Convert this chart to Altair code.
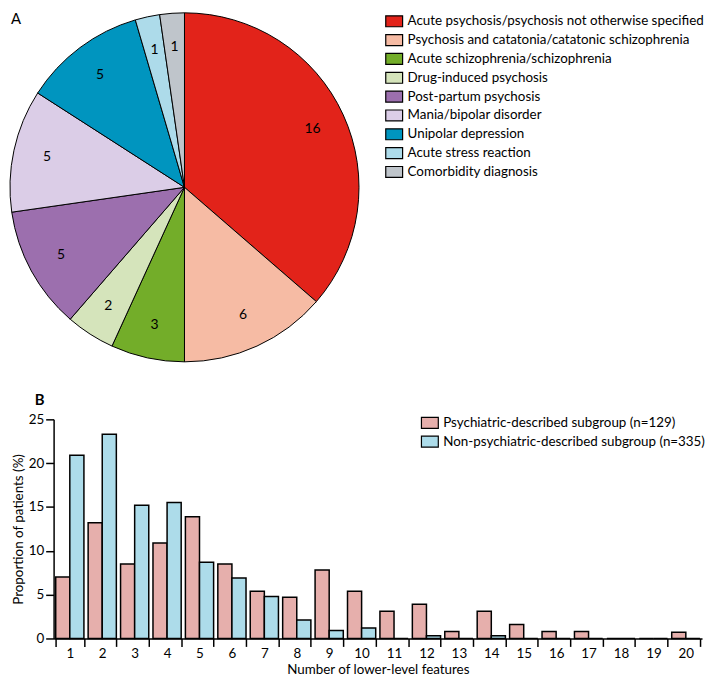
import altair as alt
import pandas as pd

FONT = "Lato"
FS = 13.5

# ---- Panel A data ----
diagnoses = [
    "Acute psychosis/psychosis not otherwise specified",
    "Psychosis and catatonia/catatonic schizophrenia",
    "Acute schizophrenia/schizophrenia",
    "Drug-induced psychosis",
    "Post-partum psychosis",
    "Mania/bipolar disorder",
    "Unipolar depression",
    "Acute stress reaction",
    "Comorbidity diagnosis",
]
counts = [16, 6, 3, 2, 5, 5, 5, 1, 1]
pie_colors = ["#E2231A", "#F6BBA4", "#73AD29", "#D5E4BB", "#9C6FAE",
              "#DBCDE7", "#0095BF", "#ADDBEA", "#BFC5CB"]

# ---- Panel B data ----
features = [str(i) for i in range(1, 21)]
groups = ["Psychiatric-described subgroup (n=129)",
          "Non-psychiatric-described subgroup (n=335)"]
psychiatric = [7.0, 13.2, 8.5, 10.9, 13.9, 8.5, 5.4, 4.7, 7.8, 5.4,
               3.1, 3.9, 0.8, 3.1, 1.6, 0.8, 0.8, 0.0, 0.0, 0.7]
non_psychiatric = [20.9, 23.3, 15.2, 15.5, 8.7, 6.9, 4.8, 2.1, 0.9, 1.2,
                   0.0, 0.3, 0.0, 0.3, 0.0, 0.0, 0.0, 0.0, 0.0, 0.0]
bar_colors = ["#E6AFAC", "#ADDCEA"]
y_ticks = [0, 5, 10, 15, 20, 25]

pie_df = pd.DataFrame({"diagnosis": diagnoses, "count": counts,
                       "order": list(range(len(diagnoses)))})

base = alt.Chart(pie_df).encode(
    theta=alt.Theta("count:Q", stack=True),
    order=alt.Order("order:Q"),
)
arcs = base.mark_arc(outerRadius=176, stroke="black", strokeWidth=1,
                     x=132, y=177).encode(
    color=alt.Color(
        "diagnosis:N",
        scale=alt.Scale(domain=diagnoses, range=pie_colors),
        sort=diagnoses,
        legend=alt.Legend(
            title=None, orient="none", legendX=334, legendY=0,
            symbolType="M-1,-0.65H1V0.65H-1Z", symbolSize=289,
            symbolStrokeColor="black", symbolStrokeWidth=1.2,
            symbolOpacity=1, labelFont=FONT, labelFontSize=FS,
            labelColor="black", labelOffset=4, rowPadding=1, padding=0,
            labelLimit=400,
        ),
    )
)
pie_labels = base.mark_text(radius=142, x=132, y=177, font=FONT,
                            fontSize=14, color="black").encode(
    text=alt.Text("count:Q")
)
a_label = alt.Chart(pd.DataFrame({"t": ["A"]})).mark_text(
    font=FONT, fontSize=15, align="left", baseline="top",
    color="black"
).encode(text="t:N", x=alt.value(-43), y=alt.value(0))

top = alt.layer(arcs, pie_labels, a_label).properties(width=654, height=360)

rows = []
for i, f in enumerate(features):
    rows.append({"feature": f, "group": groups[0], "value": psychiatric[i]})
    rows.append({"feature": f, "group": groups[1], "value": non_psychiatric[i]})
bar_df = pd.DataFrame(rows)

bars = alt.Chart(bar_df).mark_bar(stroke="black", strokeWidth=1.5).encode(
    x=alt.X("feature:O", sort=features,
            scale=alt.Scale(paddingInner=0.13, paddingOuter=0.065),
            axis=alt.Axis(title="Number of lower-level features",
                          labelAngle=0, tickBand="extent", tickSize=8,
                          tickWidth=1.5, tickColor="black",
                          domainColor="black", domainWidth=1.5,
                          labelFont=FONT, labelFontSize=FS, labelColor="black",
                          labelPadding=0, titleFont=FONT, titleFontSize=FS,
                          titleFontWeight="normal", titleColor="black",
                          titlePadding=3)),
    xOffset=alt.XOffset("group:N", sort=groups,
                        scale=alt.Scale(paddingInner=0, paddingOuter=0)),
    y=alt.Y("value:Q", scale=alt.Scale(domain=[0, 25]),
            axis=alt.Axis(values=y_ticks, title="Proportion of patients (%)",
                          grid=False, tickSize=8, tickWidth=1.5,
                          tickColor="black", domainColor="black",
                          domainWidth=1.5, labelFont=FONT, labelFontSize=FS,
                          labelColor="black", labelPadding=2, titleFont=FONT,
                          titleFontSize=FS, titleFontWeight="normal",
                          titleColor="black", titlePadding=3)),
    color=alt.Color("group:N", scale=alt.Scale(domain=groups, range=bar_colors),
                    sort=groups,
                    legend=alt.Legend(
                        title=None, orient="none", legendX=370, legendY=-6,
                        symbolType="M-1,-0.65H1V0.65H-1Z", symbolSize=289,
                        symbolStrokeColor="black", symbolStrokeWidth=1.2,
                        symbolOpacity=1, labelFont=FONT, labelFontSize=FS,
                        labelColor="black", labelOffset=4, rowPadding=1,
                        padding=0, labelLimit=400)),
)
b_label = alt.Chart(pd.DataFrame({"t": ["B"]})).mark_text(
    font=FONT, fontSize=15, fontWeight="bold", align="left", baseline="top",
    color="black"
).encode(text="t:N", x=alt.value(-19), y=alt.value(-26))

bottom = alt.layer(bars, b_label).properties(width=654, height=221)

chart = alt.vconcat(top, bottom, spacing=51, bounds="flush").resolve_scale(
    color="independent"
).properties(padding=0).configure_view(strokeWidth=0)

chart.save("out.html", embed_options={"renderer": "svg", "actions": False})
